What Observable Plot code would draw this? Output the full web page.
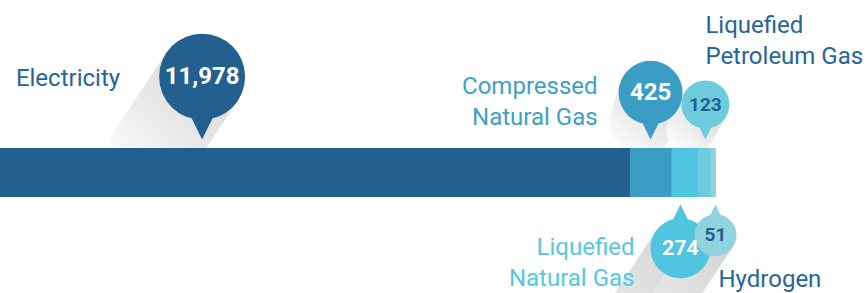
<!DOCTYPE html>
<html><head><meta charset="utf-8">
<script src="https://cdn.jsdelivr.net/npm/d3@7"></script>
<script src="https://cdn.jsdelivr.net/npm/@observablehq/plot@0.6"></script>
<style>html,body{margin:0;padding:0;background:#fff;} #chart{width:865px;height:293px;overflow:hidden}</style>
</head><body><div id="chart"></div>
<script>
// ---- data ----
const categories = ["Electricity", "Compressed Natural Gas", "Liquefied Natural Gas", "Liquefied Petroleum Gas", "Hydrogen"];
const values = [11978, 425, 274, 123, 51];
const valueLabels = ["11,978", "425", "274", "123", "51"];
const displayNames = ["Electricity", "Compressed\nNatural Gas", "Liquefied\nNatural Gas", "Liquefied\nPetroleum Gas", "Hydrogen"];

// ---- styling / layout ----
const barColors = ["#23608f", "#3b9cc4", "#50c5df", "#6ecbdc", "#90d3df"];
const pinTextColors = ["#ffffff", "#ffffff", "#ffffff", "#23608f", "#23608f"];
const labelColors = ["#27649b", "#3fa0c6", "#55c8e2", "#27649b", "#27649b"];
const pinSide = ["top", "top", "bottom", "top", "bottom"];
const pinRadius = [43, 32, 30, 24, 21];
const pinAt = [0.32, 0.48, 0.3, 0.5, 0.8];
const valueFontSize = [24, 24, 21, 19, 19];
const shadowOffset = [[-50, 75], [-9, 31], [-110, 166], [-15, 26], [-110, 166]];
const labelLayout = [
  {dx: -82, dy: -72, anchor: "end"},
  {dx: -53, dy: -49, anchor: "end"},
  {dx: -46, dy: 63, anchor: "end"},
  {dx: 0, dy: -110, anchor: "start"},
  {dx: 3, dy: 80, anchor: "start"}
];
const xDomain = [5582, 14364];
const tipGap = {top: -9, bottom: 7};
const tailRatio = 0.46;

const ends = d3.cumsum(values);
const rows = categories.map((c, i) => {
  const x1 = ends[i] - values[i], x2 = ends[i];
  const vis = Math.max(x1, xDomain[0]);
  return {category: c, value: values[i], x1, x2, fill: barColors[i], px: vis + pinAt[i] * (x2 - vis)};
});

function pinSymbol(r, side) {
  const s = side === "top" ? -1 : 1;
  const cy = s * r * (1 + tailRatio);
  const w = 0.3 * r, y0 = cy - s * 0.85 * r;
  return {draw(ctx) {
    ctx.moveTo(r, cy);
    ctx.arc(0, cy, r, 0, 2 * Math.PI);
    if (s < 0) { ctx.moveTo(w, y0); ctx.lineTo(0, 0); ctx.lineTo(-w, y0); }
    else { ctx.moveTo(-w, y0); ctx.lineTo(0, 0); ctx.lineTo(w, y0); }
    ctx.closePath();
  }};
}
function shadowSymbol(r, side, off) {
  const s = side === "top" ? -1 : 1;
  const cy = s * r * (1 + tailRatio);
  const len = Math.hypot(off[0], off[1]);
  const ux = off[0] / len, uy = off[1] / len;
  const pL = [-uy * r, cy + ux * r];
  const pR = [uy * r, cy - ux * r];
  const aL = Math.atan2(ux, -uy), aR = Math.atan2(-ux, uy);
  return {draw(ctx) {
    ctx.moveTo(pL[0], pL[1]);
    ctx.lineTo(pL[0] + off[0], pL[1] + off[1]);
    ctx.arc(off[0], cy + off[1], r, aL, aR, true);
    ctx.lineTo(pR[0], pR[1]);
    ctx.closePath();
  }};
}

const shadowMarks = [], pinMarks = [], valueMarks = [], labelMarks = [];
[0, 1, 3, 2, 4].forEach(i => {
  const side = pinSide[i], r = pinRadius[i], d = [rows[i]];
  const dyTip = tipGap[side];
  const s = side === "top" ? -1 : 1;
  shadowMarks.push(Plot.dot(d, {x: "px", frameAnchor: side, dy: dyTip, symbol: shadowSymbol(r, side, shadowOffset[i]), fill: "url(#pinShadow)", stroke: "none"}));
  pinMarks.push(Plot.dot(d, {x: "px", frameAnchor: side, dy: dyTip, symbol: pinSymbol(r, side), fill: barColors[i], stroke: "none"}));
  valueMarks.push(Plot.text(d, {x: "px", frameAnchor: side, lineAnchor: "middle", dy: dyTip + s * r * (1 + tailRatio), text: () => valueLabels[i], fill: pinTextColors[i], fontSize: valueFontSize[i], fontWeight: "bold"}));
  const L = labelLayout[i];
  labelMarks.push(Plot.text(d, {x: "px", frameAnchor: side, lineAnchor: "middle", dx: L.dx, dy: L.dy, textAnchor: L.anchor, text: () => displayNames[i], fill: labelColors[i], fontSize: 24, lineHeight: 1.29}));
});

const svg = Plot.plot({
  width: 865, height: 293,
  marginTop: 148, marginBottom: 96, marginLeft: 0, marginRight: 0,
  style: {fontFamily: "Roboto, sans-serif", background: "#fff"},
  x: {domain: xDomain, clamp: true, axis: null},
  color: {type: "identity"},
  marks: [
    ...shadowMarks,
    Plot.barX(rows, {x1: "x1", x2: "x2", fill: "fill", inset: 0}),
    ...pinMarks,
    ...valueMarks,
    ...labelMarks
  ]
});
const ns = "http://www.w3.org/2000/svg";
const defs = document.createElementNS(ns, "defs");
defs.innerHTML = '<linearGradient id="pinShadow" x1="0.85" y1="0.05" x2="0.1" y2="0.95"><stop offset="0" stop-color="#d6d6d6"/><stop offset="0.55" stop-color="#ebebeb"/><stop offset="1" stop-color="#ffffff"/></linearGradient>';
svg.insertBefore(defs, svg.firstChild);
document.getElementById("chart").appendChild(svg);
</script>
</body></html>
